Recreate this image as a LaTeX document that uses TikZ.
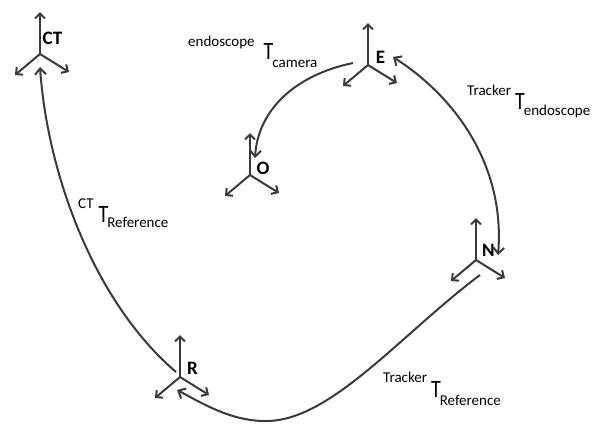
\documentclass[tikz,border=0pt]{standalone}
\usepackage{fontspec}
\usepackage{graphicx}
\setmainfont{Carlito}
\usetikzlibrary{arrows.meta}
\definecolor{ln}{HTML}{3A3A3A}
% sup, sub, gap, raise, lower
\newcommand\Tlab[5]{\raisebox{#4}{\fontsize{15}{15}\selectfont #1}\kern#3\scalebox{0.8}[1]{\fontsize{25}{25}\selectfont T}\kern-1pt\raisebox{-#5}{\fontsize{15}{15}\selectfont #2}}
\newcommand\drawframe[3]{%
  \coordinate (#1) at (#2,#3);
  \draw[axis] (#1) -- ++(0,-42);
  \draw[axis] (#1) -- ++(-25,21);
  \draw[axis] (#1) -- ++(29,18);}
\begin{document}
\begin{tikzpicture}[x=1pt,y=-1pt,
  axis/.style={draw=ln,line width=2pt,-{Straight Barb[length=5pt,width=10pt]}},
  conn/.style={draw=ln,line width=2pt},
  barb/.tip={Straight Barb[length=6pt,width=11pt]},
  flab/.style={font=\fontsize{19}{19}\selectfont\bfseries,inner sep=0pt,text=black},
  tlab/.style={anchor=base west,inner sep=0pt,text=black}]
\fill[white] (0,0) rectangle (600,424);
\useasboundingbox (0,0) rectangle (600,424);

% frames
\drawframe{CT}{40}{54}
\drawframe{E}{368}{65}
\drawframe{O}{250}{175}
\drawframe{N}{476}{260}
\drawframe{R}{180}{377}

% frame labels
\node[flab] (lCT) at (52.5,38) {CT};
\node[flab] (lE) at (380.5,57) {E};
\node[flab] (lO) at (263,168.5) {O};
\node[flab] (lN) at (488.5,250) {N};
\node[flab] (lR) at (192.5,368.5) {R};

% connector end points
\coordinate (ctTip) at (40,67);
\coordinate (rEnd) at (176,372);
\coordinate (eStart) at (353,63);
\coordinate (oTip) at (255,158);
\coordinate (eTip) at (393,57);
\coordinate (nTip) at (498,255);
\coordinate (nStart) at (480,275);
\coordinate (bottom) at (265,421);
\coordinate (rTip) at (177,390);

\draw[conn,-barb] (rEnd) .. controls (92,300) and (47,170) .. (ctTip);
\draw[conn,-barb] (eStart) .. controls (295,75) and (258,110) .. (oTip);
\draw[conn,barb-barb] (eTip) .. controls (460,100) and (505,170) .. (nTip);
\draw[conn,-barb] (nStart) .. controls (400,335) and (330,422) .. (bottom)
   .. controls (230,421) and (200,402) .. (rTip);

% transform labels
\node[tlab] (t1) at (188,59) {\Tlab{endoscope}{camera}{9pt}{13pt}{8pt}};
\node[tlab] (t2) at (467,109) {\Tlab{Tracker}{endoscope}{4pt}{14pt}{6pt}};
\node[tlab] (t3) at (78,222) {\Tlab{CT}{Reference}{5pt}{14pt}{5pt}};
\node[tlab] (t4) at (383,397) {\Tlab{Tracker}{Reference}{4pt}{15pt}{8pt}};
\end{tikzpicture}
\end{document}
